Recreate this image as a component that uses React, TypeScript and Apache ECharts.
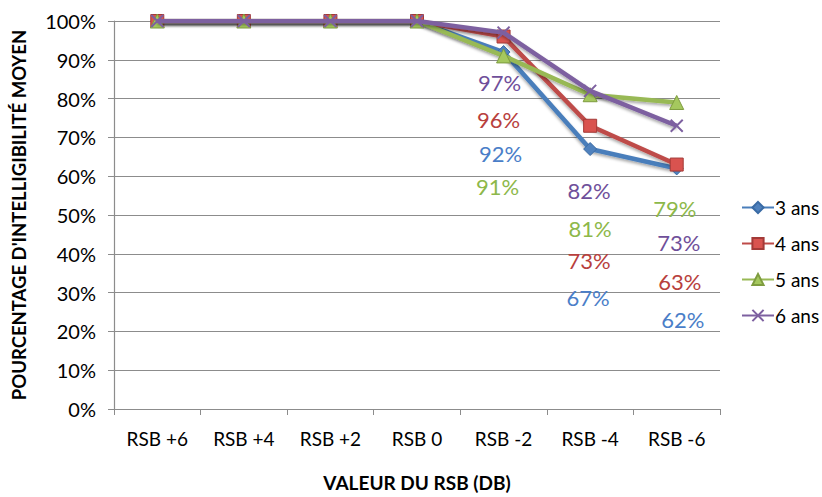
import React, { useEffect, useRef } from "react";
import * as echarts from "echarts";

const categories = ["RSB +6", "RSB +4", "RSB +2", "RSB 0", "RSB -2", "RSB -4", "RSB -6"];
const ans3 = [100, 100, 100, 100, 92, 67, 62];
const ans4 = [100, 100, 100, 100, 96, 73, 63];
const ans5 = [100, 100, 100, 100, 91, 81, 79];
const ans6 = [100, 100, 100, 100, 97, 82, 73];
const seriesNames = ["3 ans", "4 ans", "5 ans", "6 ans"];

// label pixel offsets (dx, dy) from each point, for the three last points
const off3 = [[0, 0], [0, 0], [0, 0], [0, 0], [-3, 101], [-2, 148], [6, 151]];
const off4 = [[0, 0], [0, 0], [0, 0], [0, 0], [-5, 83], [-1, 135], [3, 117]];
const off5 = [[0, 0], [0, 0], [0, 0], [0, 0], [-6, 131], [0, 134], [-2, 106]];
const off6 = [[0, 0], [0, 0], [0, 0], [0, 0], [-4, 50], [-1, 100], [2, 117]];

const FONT = "Lato, 'Open Sans', sans-serif";

function buildData(vals: number[], offs: number[][], color: string) {
  return vals.map((v, i) => ({
    value: v,
    label: {
      show: i >= 4,
      position: "inside",
      offset: offs[i],
      formatter: "{c}%",
      color,
      fontSize: 22,
      fontFamily: FONT,
    },
  }));
}

export default function App() {
  const ref = useRef<HTMLDivElement>(null);
  useEffect(() => {
    if (!ref.current) return;
    const chart = echarts.init(ref.current, null, { renderer: "svg" });
    const shadow = { shadowBlur: 3, shadowColor: "rgba(0,0,0,0.35)", shadowOffsetY: 2 };
    const mk = (name: string, vals: number[], offs: number[][], line: string, fill: string, border: string, lbl: string, symbol: string, symbolSize: number, z: number) => ({
      name,
      type: "line",
      data: buildData(vals, offs, lbl),
      symbol,
      symbolSize,
      z,
      lineStyle: { color: line, width: 4.5, ...shadow },
      itemStyle: { color: fill, borderColor: border, borderWidth: 1 },
      emphasis: { disabled: true },
    });
    chart.setOption({
      animation: false,
      grid: { left: 114, right: 102, top: 21, bottom: 85 },
      legend: {
        orient: "vertical",
        left: 736,
        top: 193,
        itemWidth: 32,
        itemHeight: 14,
        itemGap: 17,
        textStyle: { fontSize: 19, fontFamily: FONT, color: "#000", padding: [0, 0, 0, -4] },
        data: seriesNames,
      },
      xAxis: {
        type: "category",
        data: categories,
        boundaryGap: true,
        axisLine: { lineStyle: { color: "#8c8c8c", width: 1.2 } },
        axisTick: { show: true, length: 6, lineStyle: { color: "#8c8c8c" } },
        axisLabel: { fontSize: 19, fontFamily: FONT, color: "#000", margin: 20 },
        name: "VALEUR DU RSB (DB)",
        nameLocation: "middle",
        nameGap: 64,
        nameTextStyle: { fontSize: 19, fontWeight: "bold", fontFamily: FONT, color: "#000" },
      },
      yAxis: {
        type: "value",
        min: 0,
        max: 100,
        interval: 10,
        axisLine: { show: true, lineStyle: { color: "#8c8c8c", width: 1.2 } },
        axisTick: { show: true, length: 6, lineStyle: { color: "#8c8c8c" } },
        splitLine: { lineStyle: { color: "#8c8c8c", width: 1.2 } },
        axisLabel: { formatter: "{value}%", fontSize: 20, fontFamily: FONT, color: "#000", margin: 18 },
        name: "POURCENTAGE D'INTELLIGIBILITÉ MOYEN",
        nameLocation: "middle",
        nameGap: 86,
        nameTextStyle: { fontSize: 18.5, fontWeight: "bold", fontFamily: FONT, color: "#000" },
      },
      series: [
        mk("3 ans", ans3, off3, "#4A7EBB", "#4F81BD", "#3A6BA5", "#4A7EC8", "diamond", 13, 2),
        mk("4 ans", ans4, off4, "#BE4B48", "#D9534F", "#A33A37", "#B8403D", "rect", 13, 3),
        mk("5 ans", ans5, off5, "#98B954", "#A5C85E", "#7E9C3F", "#8DB84A", "triangle", 14, 4),
        {
          ...mk("6 ans", ans6, off6, "#7D60A0", "none", "#7D60A0", "#6F4F9A", "path://M0,0 L10,10 M10,0 L0,10", 12, 5),
          itemStyle: { color: "rgba(0,0,0,0)", borderColor: "#7D60A0", borderWidth: 2 },
        },
      ],
    });
    return () => chart.dispose();
  }, []);
  return <div ref={ref} style={{ position: "absolute", left: 0, top: 0, width: 822, height: 497 }} />;
}
